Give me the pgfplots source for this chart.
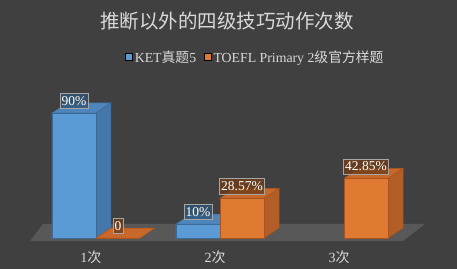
\documentclass[border=0pt]{standalone}
\usepackage{pgfplots}
\pgfplotsset{compat=1.18}
\usepackage{fontspec}
\setmainfont{Liberation Serif}
\newfontfamily\cjk{Noto Sans CJK SC}
\definecolor{bg}{HTML}{404040}
\definecolor{floorc}{HTML}{585858}
\definecolor{bF}{HTML}{5B9BD5}
\definecolor{bT}{HTML}{4E85BC}
\definecolor{bS}{HTML}{4677AA}
\definecolor{bE}{HTML}{3A6A98}
\definecolor{oF}{HTML}{E07A32}
\definecolor{oT}{HTML}{C8682A}
\definecolor{oS}{HTML}{B45E27}
\definecolor{oE}{HTML}{A8541E}
\definecolor{txt}{HTML}{D9D9D9}
\definecolor{lbox}{HTML}{A6A6A6}
\begin{document}
\begin{tikzpicture}
\begin{axis}[
  scale only axis, width=457pt, height=269pt,
  xmin=-0.774, xmax=2.911, ymin=-22.3, ymax=171.3,
  axis background/.style={fill=bg},
  axis line style={draw=none}, tick style={draw=none},
  ytick=\empty,
  xtick={0,1,2},
  xticklabels={1{\cjk 次},2{\cjk 次},3{\cjk 次}},
  xticklabel style={anchor=center, yshift=12pt, xshift=-5pt, text=txt, font=\fontsize{14}{16}\selectfont},
  clip=false,
  legend columns=2,
  legend style={draw=none, fill=none, text=txt, font=\fontsize{13.8}{16}\selectfont,
    at={(rel axis cs:0.559,0.788)}, anchor=center,
    /tikz/every even column/.append style={column sep=6pt}},
  legend image code/.code={\fill[#1] (1pt,-3.5pt) rectangle (8pt,3.5pt);},
  lbl/.style 2 args={point meta=explicit symbolic, nodes near coords,
    nodes near coords style={anchor=center, yshift=12pt, xshift=#2, text=white, draw=lbox, line width=0.6pt,
      fill=#1, fill opacity=0.8, text opacity=1, inner xsep=1.8pt, inner ysep=3pt, font=\fontsize{13.5}{14}\selectfont}},
]
% floor
\addplot[fill=floorc, draw=none, forget plot] coordinates {(-0.532,-2.16) (2.476,-2.16) (2.653,10.1) (-0.427,10.1)} -- cycle;

% KET series: top and side faces
\addplot[fill=bT, draw=bE, line width=0.5pt, forget plot] coordinates {(-0.355,90) (0,90) (0.121,97.2) (-0.234,97.2)} -- cycle;
\addplot[fill=bS, draw=bE, line width=0.5pt, forget plot] coordinates {(0,0) (0.121,7.2) (0.121,97.2) (0,90)} -- cycle;
\addplot[fill=bT, draw=bE, line width=0.5pt, forget plot] coordinates {(0.645,10) (1,10) (1.121,17.2) (0.766,17.2)} -- cycle;
\addplot[fill=bS, draw=bE, line width=0.5pt, forget plot] coordinates {(1,0) (1.121,7.2) (1.121,17.2) (1,10)} -- cycle;
% KET front faces
\addplot[ybar, bar width=0.355, bar shift=-0.1775, fill=bF, draw=bE, line width=0.5pt, lbl={bF!55!black}{-22pt}, forget plot]
  coordinates {(0,90) [90\%] (1,10) [10\%]};

% TOEFL series: top and side faces
\addplot[fill=oT, draw=oE, line width=0.5pt, forget plot] coordinates {(0,0) (0.355,0) (0.476,7.2) (0.121,7.2)} -- cycle;
\addplot[fill=oT, draw=oE, line width=0.5pt, forget plot] coordinates {(1,28.57) (1.355,28.57) (1.476,35.77) (1.121,35.77)} -- cycle;
\addplot[fill=oS, draw=oE, line width=0.5pt, forget plot] coordinates {(1.355,0) (1.476,7.2) (1.476,35.77) (1.355,28.57)} -- cycle;
\addplot[fill=oT, draw=oE, line width=0.5pt, forget plot] coordinates {(2,42.85) (2.355,42.85) (2.476,50.05) (2.121,50.05)} -- cycle;
\addplot[fill=oS, draw=oE, line width=0.5pt, forget plot] coordinates {(2.355,0) (2.476,7.2) (2.476,50.05) (2.355,42.85)} -- cycle;
% TOEFL front faces
\addplot[ybar, bar width=0.355, bar shift=0.1775, fill=oF, draw=oE, line width=0.5pt, lbl={oF!50!black}{22pt}, forget plot]
  coordinates {(0,0) [0] (1,28.57) [28.57\%] (2,42.85) [42.85\%]};

\addlegendimage{fill=bF}
\addlegendentry{KET{\cjk 真题}5}
\addlegendimage{fill=oF}
\addlegendentry{TOEFL Primary 2{\cjk 级官方样题}}

\node[text=txt, font=\cjk\fontsize{19.5}{22}\selectfont] at (rel axis cs:0.497,0.922) {推断以外的四级技巧动作次数};
\end{axis}
\end{tikzpicture}
\end{document}
